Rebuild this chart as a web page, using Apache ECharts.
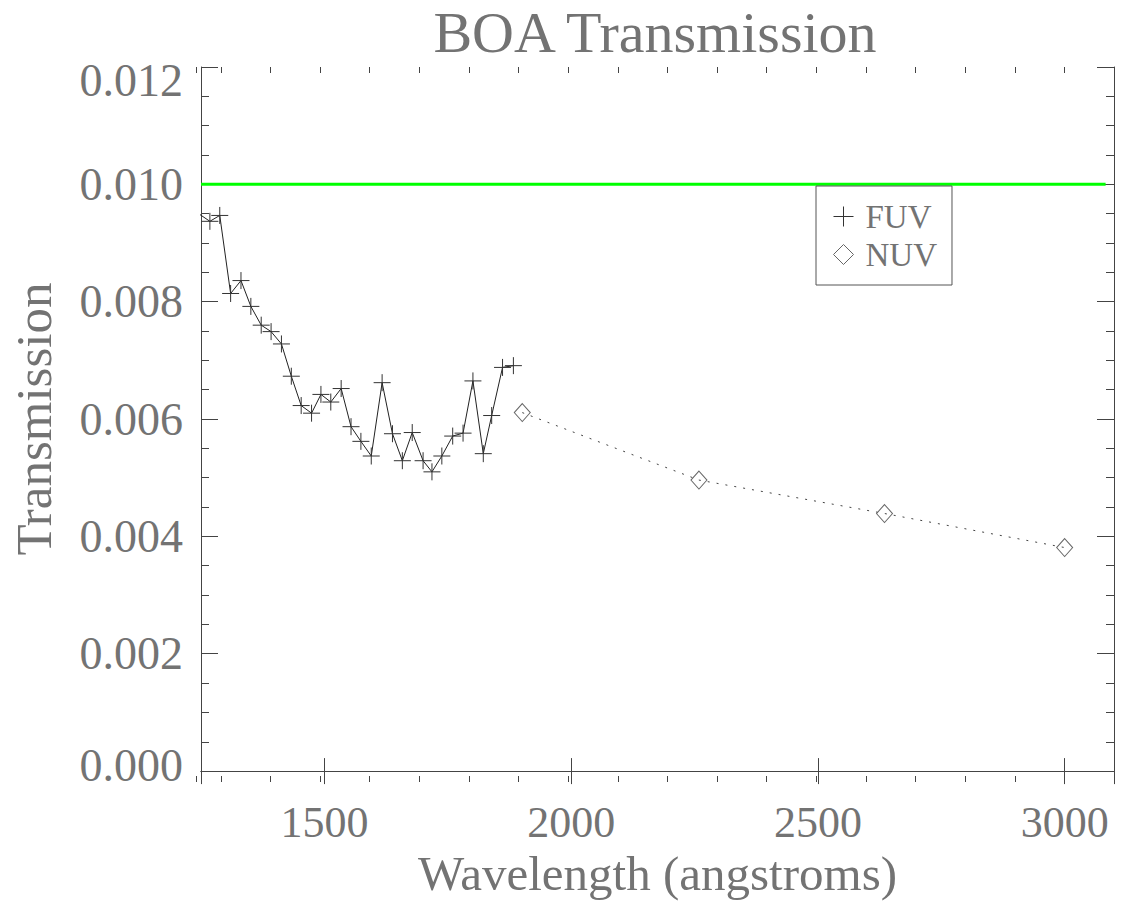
<!DOCTYPE html>
<html><head><meta charset="utf-8">
<script src="https://cdn.jsdelivr.net/npm/echarts@6/dist/echarts.min.js"></script>
<style>html,body{margin:0;padding:0;background:#fff}#chart{width:1127px;height:903px}</style>
</head><body><div id="chart"></div>
<script>
// ---- data ----
const fuvWavelength = [1247,1268,1288,1310,1331,1351,1372,1392,1413,1433,1453,1474,1493,1513,1534,1554,1574,1595,1617,1638,1658,1678,1700,1718,1738,1760,1781,1801,1822,1839,1861,1883];
const fuvTransmission = [0.00949,0.00937,0.00947,0.00814,0.00836,0.00792,0.00760,0.00749,0.00728,0.00673,0.00623,0.00610,0.00642,0.00629,0.00652,0.00587,0.00562,0.00537,0.00662,0.00575,0.00529,0.00577,0.00529,0.00510,0.00537,0.00571,0.00576,0.00665,0.00541,0.00606,0.00688,0.00691];
const nuvWavelength = [1901,2259,2635,3000];
const nuvTransmission = [0.00611,0.00496,0.00439,0.00381];
const refWavelength = [1250,3083];
const refTransmission = [0.010,0.010];
const xLabelValues = [1500,2000,2500,3000];
const yMin = 0, yMax = 0.012, yStep = 0.002;
const seriesNames = ['FUV','NUV'];
const titleText = 'BOA Transmission';
const xName = 'Wavelength (angstroms)';
const yName = 'Transmission';

const FONT = "'Liberation Serif', serif";
const TXT = '#737373';
const AX = '#444';
const zip = (a,b) => a.map((v,i)=>[v,b[i]]);
const gridRect = {left:196, right:13, top:67, bottom:121};
const xRange = {min:1250, max:3100};
const PLUS = 'path://M0,8L16,8M8,0L8,16';
const DIAMOND = 'path://M8,0L16,8L8,16L0,8Z';

function yLabel(v) {
  const s = v.toFixed(3);
  if (Math.abs(v - yMax) < 1e-9) return '{hi|' + s + '}';
  if (Math.abs(v - yMin) < 1e-9) return '{lo|' + s + '}';
  return s;
}

const chart = echarts.init(document.getElementById('chart'), null, {renderer:'svg'});
chart.setOption({
  animation:false,
  backgroundColor:'#fff',
  title:{text:titleText, left:655, top:3, textAlign:'center', padding:0,
    textStyle:{fontFamily:FONT, fontSize:58, fontWeight:'normal', color:TXT}},
  grid:[Object.assign({}, gridRect), Object.assign({}, gridRect)],
  xAxis:[
    Object.assign({type:'value', gridIndex:0, position:'bottom', minInterval:500, maxInterval:500,
      axisLine:{show:true, lineStyle:{color:AX, width:1}},
      axisTick:{show:true, inside:true, length:13, lineStyle:{color:AX}},
      axisLabel:{margin:29, fontFamily:FONT, fontSize:44, color:TXT,
        formatter:v => xLabelValues.indexOf(v) >= 0 ? String(v) : ''},
      splitLine:{show:false},
      name:xName, nameLocation:'middle', nameGap:72,
      nameTextStyle:{fontFamily:FONT, fontSize:49, color:TXT}}, xRange),
    Object.assign({type:'value', gridIndex:0, position:'top', minInterval:500, maxInterval:500,
      axisLine:{show:true, lineStyle:{color:AX, width:1}},
      axisTick:{show:true, inside:true, length:13, lineStyle:{color:AX}},
      axisLabel:{show:false}, splitLine:{show:false}}, xRange),
    Object.assign({type:'value', gridIndex:1, position:'bottom', minInterval:100, maxInterval:100,
      axisLine:{show:false},
      axisTick:{show:true, inside:true, length:6, lineStyle:{color:AX}},
      axisLabel:{show:false}, splitLine:{show:false}}, xRange),
    Object.assign({type:'value', gridIndex:1, position:'top', minInterval:100, maxInterval:100,
      axisLine:{show:false},
      axisTick:{show:true, inside:true, length:6, lineStyle:{color:AX}},
      axisLabel:{show:false}, splitLine:{show:false}}, xRange)
  ],
  yAxis:[
    {type:'value', gridIndex:0, position:'left', min:yMin, max:yMax, interval:yStep,
      axisLine:{show:true, lineStyle:{color:AX, width:1}},
      axisTick:{show:true, inside:true, length:17, lineStyle:{color:AX}},
      minorTick:{show:true, splitNumber:4, length:8, lineStyle:{color:AX}},
      axisLabel:{margin:18, fontFamily:FONT, fontSize:46, color:TXT, formatter:yLabel,
        rich:{
          hi:{fontFamily:FONT, fontSize:46, color:TXT, padding:[26,0,0,0]},
          lo:{fontFamily:FONT, fontSize:46, color:TXT, padding:[0,0,12,0]}
        }},
      splitLine:{show:false},
      name:yName, nameLocation:'middle', nameGap:142,
      nameTextStyle:{fontFamily:FONT, fontSize:51, color:TXT}},
    {type:'value', gridIndex:0, position:'right', min:yMin, max:yMax, interval:yStep,
      axisLine:{show:true, lineStyle:{color:AX, width:1}},
      axisTick:{show:true, inside:true, length:17, lineStyle:{color:AX}},
      minorTick:{show:true, splitNumber:4, length:8, lineStyle:{color:AX}},
      axisLabel:{show:false}, splitLine:{show:false}},
    {type:'value', gridIndex:1, min:yMin, max:yMax, show:false}
  ],
  legend:{
    orient:'vertical', left:816, top:186, padding:[14,15,14,17],
    itemWidth:34, itemHeight:20, itemGap:5, symbolKeepAspect:true,
    borderColor:'#555', borderWidth:1, selectedMode:false,
    textStyle:{fontFamily:FONT, fontSize:33, color:TXT},
    data:[
      {name:seriesNames[0], icon:PLUS, itemStyle:{color:'transparent', borderColor:'#333', borderWidth:1}},
      {name:seriesNames[1], icon:DIAMOND, itemStyle:{color:'transparent', borderColor:'#666', borderWidth:1}}
    ]
  },
  series:[
    {name:'reference', type:'line', xAxisIndex:0, yAxisIndex:0, data:zip(refWavelength, refTransmission),
      symbol:'none', silent:true, lineStyle:{color:'#00ff00', width:3}, z:1},
    {name:seriesNames[0], type:'line', xAxisIndex:0, yAxisIndex:0, data:zip(fuvWavelength, fuvTransmission),
      symbol:PLUS, symbolSize:17, clip:true,
      itemStyle:{color:'transparent', borderColor:'#333', borderWidth:1},
      lineStyle:{color:'#222', width:1}, z:3},
    {name:seriesNames[1], type:'line', xAxisIndex:0, yAxisIndex:0, data:zip(nuvWavelength, nuvTransmission),
      symbol:'diamond', symbolSize:[16,18],
      itemStyle:{color:'transparent', borderColor:'#666', borderWidth:1},
      lineStyle:{color:'#444', width:1, type:[2,7]}, z:3}
  ]
});
</script>
</body></html>
